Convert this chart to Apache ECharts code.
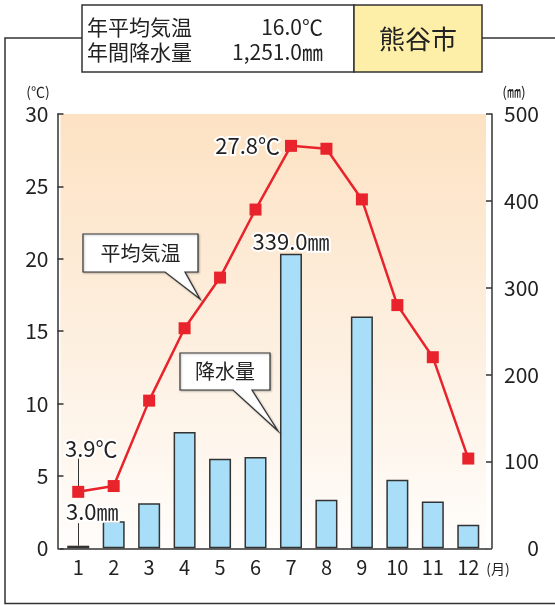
<!DOCTYPE html>
<html>
<head>
<meta charset="utf-8">
<script src="https://cdn.jsdelivr.net/npm/echarts@6/dist/echarts.min.js"></script>
<style>
html,body{margin:0;padding:0;background:#fff;}
#main{width:555px;height:605px;}
</style>
</head>
<body>
<div id="main"></div>
<script>
// ---- data ----
const months = ['1','2','3','4','5','6','7','8','9','10','11','12'];
const temperature = [3.9, 4.3, 10.2, 15.2, 18.7, 23.4, 27.8, 27.6, 24.1, 16.8, 13.2, 6.2];
const precipitation = [3.0, 31, 52, 134, 103, 105, 339.0, 56, 267, 79, 54, 27];
const annualTemp = '16.0℃';
const annualPrecip = '1,251.0㎜';
const cityName = '熊谷市';
const labelTempName = '年平均気温';
const labelPrecipName = '年間降水量';
const calloutTemp = '平均気温';
const calloutPrecip = '降水量';
const labeledTempIdx = [0, 6];
const labeledPrecipIdx = [0, 6];

const FONT = '"Noto Sans CJK JP", "Noto Sans", sans-serif';
const TXT = '#222';
const RED = '#e8232b';

const chart = echarts.init(document.getElementById('main'), null, {renderer: 'canvas'});

const haloLabel = {
  show: true, color: TXT, fontSize: 22, fontFamily: FONT,
  textBorderColor: '#fff', textBorderWidth: 4
};

const tempData = temperature.map((v, i) => {
  if (i === 0) return {value: v, label: Object.assign({}, haloLabel, {position: 'top', distance: 26, offset: [13, 0], formatter: v.toFixed(1) + '℃'})};
  if (i === 6) return {value: v, label: Object.assign({}, haloLabel, {position: 'left', distance: 5, formatter: v.toFixed(1) + '℃'})};
  return v;
});
const precipData = precipitation.map((v, i) => {
  if (i === 0) return {value: v, label: Object.assign({}, haloLabel, {position: 'top', distance: 23, offset: [14, 0], formatter: v.toFixed(1) + '㎜'})};
  if (i === 6) return {value: v, label: Object.assign({}, haloLabel, {position: 'top', distance: 1, formatter: v.toFixed(1) + '㎜'})};
  return v;
});

function callout(x1, y1, x2, y2, b1, b2, tx, ty) {
  return {
    type: 'polygon', z: 100,
    shape: {points: [[x1, y1], [x2, y1], [x2, y2], [b2, y2], [tx, ty], [b1, y2], [x1, y2]]},
    style: {fill: '#fff', stroke: '#333', lineWidth: 1.2, shadowBlur: 2, shadowColor: 'rgba(0,0,0,0.25)', shadowOffsetX: 1, shadowOffsetY: 1}
  };
}
function text(x, y, t, size, align, extra) {
  return Object.assign({
    type: 'text', z: 101, x: x, y: y,
    style: {text: t, fill: TXT, font: size + 'px ' + FONT, textAlign: align || 'left', textVerticalAlign: 'middle'}
  }, extra || {});
}

const option = {
  animation: false,
  textStyle: {fontFamily: FONT},
  grid: {
    left: 60.5, right: 69, top: 114, bottom: 56.7,
    show: true, borderWidth: 0,
    backgroundColor: {type: 'linear', x: 0, y: 0, x2: 0, y2: 1,
      colorStops: [{offset: 0, color: '#fde2c3'}, {offset: 0.55, color: '#fdf0e1'}, {offset: 1, color: '#fffdfb'}]}
  },
  xAxis: {
    type: 'category', data: months,
    axisLine: {show: true, lineStyle: {color: '#333', width: 1.5}},
    axisTick: {show: false},
    axisLabel: {color: TXT, fontSize: 20, fontFamily: FONT, margin: 9},
    splitLine: {show: false}
  },
  yAxis: [
    {
      type: 'value', min: 0, max: 30, interval: 5, position: 'left', offset: 3,
      axisLine: {show: true, lineStyle: {color: '#333', width: 1.5}},
      axisTick: {show: true, inside: true, length: 6, lineStyle: {color: '#333', width: 1.5}},
      axisLabel: {color: TXT, fontSize: 21, fontFamily: FONT, margin: 9},
      splitLine: {show: false}
    },
    {
      type: 'value', min: 0, max: 500, interval: 100, position: 'right', offset: 6,
      axisLine: {show: true, lineStyle: {color: '#333', width: 1.5}},
      axisTick: {show: true, inside: true, length: 6, lineStyle: {color: '#333', width: 1.5}},
      axisLabel: {color: TXT, fontSize: 21, fontFamily: FONT, margin: 47, align: 'right'},
      splitLine: {show: false}
    }
  ],
  series: [
    {
      type: 'bar', yAxisIndex: 1, data: precipData, barWidth: 22,
      itemStyle: {color: '#a9def8', borderColor: '#333', borderWidth: 1.5},
      z: 2,
      markLine: {
        silent: true, symbol: ['none', 'none'],
        lineStyle: {color: '#333', width: 1, type: 'solid'},
        label: {show: false},
        data: [[{coord: [months[0], precipitation[0]]}, {coord: [months[0], 29]}]]
      }
    },
    {
      type: 'line', yAxisIndex: 0, data: tempData,
      symbol: 'rect', symbolSize: 12,
      lineStyle: {color: RED, width: 2.5},
      itemStyle: {color: RED},
      z: 5,
      markLine: {
        silent: true, symbol: ['none', 'none'],
        lineStyle: {color: '#333', width: 1, type: 'solid'},
        label: {show: false},
        data: [[{coord: [months[0], temperature[0]]}, {coord: [months[0], 6.4]}]]
      }
    }
  ],
  graphic: [
    // outer frame
    {type: 'polyline', z: 50, shape: {points: [[82, 38], [5, 38], [5, 603.5], [560, 603.5]]}, style: {fill: null, stroke: '#333', lineWidth: 1.5}},
    {type: 'line', z: 50, shape: {x1: 482, y1: 38, x2: 560, y2: 38}, style: {stroke: '#333', lineWidth: 1.5}},
    // title boxes
    {type: 'rect', z: 50, shape: {x: 82, y: 5, width: 272, height: 67}, style: {fill: '#fff', stroke: '#333', lineWidth: 1.5}},
    {type: 'rect', z: 50, shape: {x: 354, y: 5, width: 128, height: 67}, style: {fill: '#fdefa8', stroke: '#333', lineWidth: 1.5}},
    text(87, 27, labelTempName, 21),
    text(323, 27, annualTemp, 21, 'right'),
    text(87, 52, labelPrecipName, 21),
    text(323, 52, annualPrecip, 21, 'right'),
    text(418, 39.5, cityName, 26, 'center'),
    // unit labels
    text(38, 92, '(℃)', 14, 'center'),
    text(514, 92, '(㎜)', 14, 'center'),
    text(498, 569, '(月)', 14, 'center'),
    // callouts
    callout(83, 234, 198, 272, 165, 185, 200, 299),
    text(140.5, 253, calloutTemp, 20, 'center'),
    callout(180, 353, 270, 390, 233, 252, 278, 431),
    text(225, 371.5, calloutPrecip, 20, 'center')
  ]
};
chart.setOption(option);
</script>
</body>
</html>
